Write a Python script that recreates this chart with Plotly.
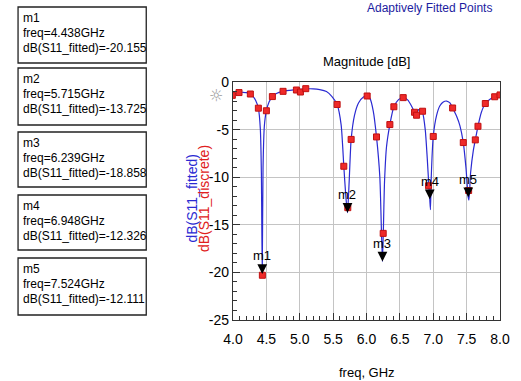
import plotly.graph_objects as go

# ---- data ----
fit_freq = [4.00, 4.05, 4.10, 4.15, 4.20, 4.26, 4.30, 4.34, 4.38, 4.41, 4.425, 4.438, 4.45, 4.47,
            4.50, 4.54, 4.59, 4.65, 4.75, 4.85, 4.95, 5.00, 5.10, 5.20, 5.30, 5.40, 5.48, 5.56,
            5.62, 5.66, 5.69, 5.715, 5.74, 5.77, 5.82, 5.88, 5.95, 6.01, 6.05, 6.10, 6.15, 6.20,
            6.239, 6.27, 6.30, 6.35, 6.41, 6.48, 6.55, 6.62, 6.68, 6.72, 6.75, 6.78, 6.81, 6.84,
            6.88, 6.91, 6.935, 6.948, 6.958, 6.97, 7.00, 7.05, 7.10, 7.15, 7.20, 7.25, 7.29, 7.35,
            7.40, 7.45, 7.49, 7.524, 7.535, 7.56, 7.60, 7.63, 7.67, 7.72, 7.78, 7.85, 7.92, 8.00]
fit_db = [-1.40, -1.20, -1.10, -1.08, -1.12, -1.26, -1.50, -1.95, -2.75, -5.0, -9.5, -20.155, -9.0, -4.6,
          -3.02, -2.10, -1.53, -1.20, -0.98, -0.88, -0.80, -0.78, -0.72, -0.72, -0.80, -1.00, -1.50, -2.36,
          -4.5, -8.85, -12.0, -13.725, -10.5, -6.03, -3.5, -2.2, -1.6, -1.47, -1.7, -3.0, -5.77, -10.0,
          -18.858, -10.5, -6.8, -4.47, -2.60, -1.85, -1.60, -1.90, -2.60, -3.18, -3.30, -2.90, -2.95, -3.20,
          -5.0, -8.0, -11.0, -12.326, -13.4, -10.0, -5.72, -3.5, -2.5, -2.1, -2.0, -2.2, -2.73, -3.6,
          -4.6, -6.36, -9.0, -12.111, -12.4, -9.5, -7.2, -6.08, -4.65, -3.2, -2.26, -1.8, -1.55, -1.36]

disc_freq = [3.99, 4.09, 4.26, 4.38, 4.44, 4.50, 4.59, 4.75, 4.95, 5.01, 5.09, 5.56, 5.66, 5.72,
             5.77, 6.01, 6.15, 6.25, 6.35, 6.41, 6.55, 6.72, 6.75, 6.84, 6.93, 7.00, 7.29, 7.45,
             7.53, 7.63, 7.67, 7.78, 7.92, 8.00]
disc_db = [-1.40, -1.11, -1.26, -2.75, -20.3, -3.02, -1.53, -0.98, -0.84, -1.05, -0.70, -2.36, -8.85, -13.2,
           -6.03, -1.47, -5.77, -15.9, -4.47, -2.60, -1.64, -3.18, -3.49, -3.07, -10.9, -5.72, -2.73, -6.36,
           -11.4, -6.08, -4.65, -2.26, -1.55, -1.36]

marker_names = ["m1", "m2", "m3", "m4", "m5"]
marker_freq = [4.438, 5.715, 6.239, 6.948, 7.524]
marker_db = [-20.155, -13.725, -18.858, -12.326, -12.111]

x_ticks = [4.0, 4.5, 5.0, 5.5, 6.0, 6.5, 7.0, 7.5, 8.0]
y_ticks = [0, -5, -10, -15, -20, -25]

# ---- layout helpers ----
W, H = 521, 381
L, R, T, B = 233, 11, 82, 61
PW, PH = W - L - R, H - T - B


def px(x):
    return (x - L) / PW


def py(y):
    return (H - B - y) / PH


FONT = "Liberation Sans, Arial, sans-serif"

fig = go.Figure()
fig.add_trace(go.Scatter(x=fit_freq, y=fit_db, mode="lines",
                         line=dict(color="#2a2ad2", width=1.2, shape="spline", smoothing=0.6),
                         showlegend=False, hoverinfo="skip"))
fig.add_trace(go.Scatter(x=disc_freq, y=disc_db, mode="markers",
                         marker=dict(symbol="square", size=6, color="#ee2a2a",
                                     line=dict(color="#c01010", width=1)),
                         showlegend=False, hoverinfo="skip"))

annotations = []
shapes = []

# marker arrows on the plot
for name, f, v in zip(marker_names, marker_freq, marker_db):
    annotations.append(dict(x=f, y=v, xref="x", yref="y", text=name, showarrow=True,
                            arrowhead=2, arrowsize=1.3, arrowwidth=1.5, arrowcolor="black",
                            ax=0, ay=-18, standoff=0,
                            font=dict(family=FONT, size=13, color="black")))

# marker readout boxes
box_tops = [7, 68, 132, 195, 258]
box_bottoms = [63, 125, 187, 250, 315]
for name, f, v, t0, b0 in zip(marker_names, marker_freq, marker_db, box_tops, box_bottoms):
    shapes.append(dict(type="rect", xref="paper", yref="paper",
                       x0=px(10), x1=px(143), y0=py(b0), y1=py(t0),
                       line=dict(color="#222222", width=1.3), fillcolor="white", layer="above"))
    lines = [name, "freq=%.3fGHz" % f, "dB(S11_fitted)=%.3f" % v]
    for i, txt in enumerate(lines):
        annotations.append(dict(x=px(13), y=py(t0 + 11 + 15 * i), xref="paper", yref="paper",
                                xanchor="left", yanchor="middle", showarrow=False, text=txt,
                                font=dict(family=FONT, size=12, color="black")))


def label(xp, yp, text, size, color, angle=0, family=FONT):
    annotations.append(dict(x=px(xp), y=py(yp), xref="paper", yref="paper", text=text,
                            xanchor="center", yanchor="middle", textangle=angle,
                            showarrow=False, font=dict(family=family, size=size, color=color)))


label(372, 61, "Magnitude [dB]", 13, "black")
label(437, 8, "Adaptively Fitted Points", 12, "#1c1ca0")
label(372, 372, "freq, GHz", 13, "black")
label(190, 199, "dB(S11_fitted)", 14, "#2a2ad2", angle=-90)
label(203, 199, "dB(S11_discrete)", 14, "#e02020", angle=-90)
label(215, 95, "☼", 16, "#9a9a9a", family="DejaVu Sans")

fig.update_layout(
    width=W, height=H,
    margin=dict(l=L, r=R, t=T, b=B),
    paper_bgcolor="white", plot_bgcolor="white",
    annotations=annotations, shapes=shapes,
    font=dict(family=FONT, size=14, color="black"),
)
fig.update_xaxes(range=[4.0, 8.0], tickvals=x_ticks, ticktext=["%.1f" % v for v in x_ticks],
                 ticks="inside", ticklen=7, tickcolor="#333", showgrid=True, gridcolor="#c4c4c4",
                 gridwidth=1, showline=True, linecolor="#333", linewidth=1.3, mirror=True,
                 zeroline=False, tickfont=dict(family=FONT, size=14), ticklabelstandoff=6,
                 minor=dict(dtick=0.1, ticks="inside", ticklen=4, tickcolor="#333", showgrid=False))
fig.update_yaxes(range=[-25, 0], tickvals=y_ticks, ticktext=[str(v) for v in y_ticks],
                 ticks="inside", ticklen=7, tickcolor="#333", showgrid=True, gridcolor="#c4c4c4",
                 gridwidth=1, showline=True, linecolor="#333", linewidth=1.3, mirror=True,
                 zeroline=False, tickfont=dict(family=FONT, size=14),
                 minor=dict(dtick=1, ticks="inside", ticklen=4, tickcolor="#333", showgrid=False))

fig.write_html("out.html", config={"displayModeBar": False},
               post_script="document.body.style.margin='0';")
